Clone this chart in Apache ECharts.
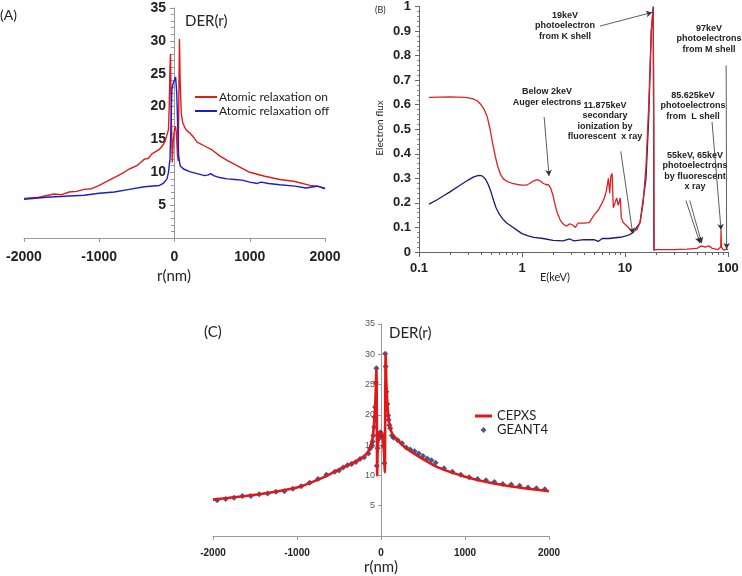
<!DOCTYPE html>
<html><head><meta charset="utf-8">
<script src="https://cdn.jsdelivr.net/npm/echarts@6/dist/echarts.min.js"></script>
<style>html,body{margin:0;padding:0;background:#fff}#c{width:742px;height:576px}</style>
</head><body><div id="c"></div>
<script>
// ---------- Panel A: DER(r) with atomic relaxation on/off ----------
const aOn = [[-2000,6.0],[-1800,6.2],[-1600,6.7],[-1500,6.6],[-1400,7.0],[-1300,7.1],[-1200,7.4],[-1100,7.5],[-1000,8.0],[-900,8.6],[-800,9.2],[-700,9.8],[-600,10.5],[-500,11.0],[-450,11.5],[-400,12.0],[-350,12.1],[-300,12.8],[-200,13.5],[-150,14.2],[-120,14.9],[-80,16.5],[-70,20],[-60,26],[-53,28],[-45,20],[-30,11.5],[-15,15],[0,16.5],[13,17],[25,16],[40,12.5],[50,11.7],[58,22],[66,30.3],[75,24],[90,19],[110,17.5],[150,16.5],[200,16],[250,15.4],[300,14.6],[400,14],[500,13.4],[600,12.5],[700,11.8],[800,11.2],[900,10.6],[1000,10],[1200,9.4],[1400,8.9],[1600,8.6],[1800,8.0],[1900,7.9],[2000,7.6]];
const aOff = [[-2000,5.9],[-1700,6.2],[-1400,6.4],[-1200,6.5],[-1000,6.8],[-800,7.0],[-600,7.4],[-400,7.8],[-200,8.0],[-150,8.3],[-100,9.0],[-80,10],[-60,12],[-45,18],[-35,22.5],[-20,23.5],[0,24],[15,24.5],[30,22],[45,16],[55,12.5],[75,11],[120,10.5],[200,10.1],[300,9.8],[400,9.5],[450,9.6],[480,9.8],[520,9.5],[600,9.2],[700,9.0],[800,8.9],[900,8.8],[1000,8.5],[1100,8.3],[1150,8.5],[1250,8.3],[1400,8.1],[1600,7.9],[1750,7.6],[1850,7.8],[1900,7.9],[2000,7.5]];

// ---------- Panel B: electron flux spectrum ----------
const bRed = [[0.125,0.63],[0.2,0.632],[0.28,0.63],[0.33,0.625],[0.37,0.615],[0.4,0.6],[0.43,0.58],[0.46,0.55],[0.49,0.5],[0.52,0.44],[0.55,0.39],[0.58,0.35],[0.62,0.315],[0.66,0.298],[0.72,0.287],[0.8,0.28],[0.9,0.275],[1.0,0.272],[1.1,0.272],[1.2,0.28],[1.3,0.29],[1.4,0.295],[1.5,0.29],[1.6,0.28],[1.7,0.275],[1.8,0.274],[1.9,0.26],[2.0,0.23],[2.1,0.19],[2.2,0.16],[2.35,0.13],[2.5,0.115],[2.7,0.105],[2.9,0.115],[3.1,0.11],[3.3,0.1],[3.5,0.118],[4.0,0.118],[4.5,0.12],[5.0,0.15],[5.5,0.17],[6.0,0.2],[6.3,0.22],[6.6,0.25],[6.9,0.3],[7.1,0.24],[7.3,0.31],[7.5,0.32],[7.7,0.18],[8.0,0.2],[8.3,0.22],[8.6,0.19],[9.0,0.22],[9.2,0.14],[9.6,0.12],[10.2,0.11],[10.8,0.1],[11.5,0.085],[12,0.08],[13,0.09],[14,0.12],[15,0.2],[16,0.35],[17,0.6],[18,0.9],[18.8,0.99],[19,0.5],[19.1,0.01],[20,0.01],[30,0.01],[40,0.012],[50,0.015],[55,0.025],[60,0.02],[65,0.025],[70,0.015],[80,0.01],[85,0.02],[85.625,0.09],[86.5,0.02],[90,0.008],[97,0.012],[100,0.01]];
const bBlue = [[0.125,0.195],[0.15,0.213],[0.175,0.23],[0.2,0.245],[0.25,0.272],[0.3,0.293],[0.34,0.306],[0.38,0.312],[0.41,0.31],[0.44,0.298],[0.47,0.275],[0.5,0.245],[0.53,0.21],[0.56,0.18],[0.6,0.155],[0.65,0.135],[0.7,0.12],[0.8,0.103],[0.9,0.088],[1.0,0.075],[1.15,0.066],[1.3,0.06],[1.6,0.055],[2.0,0.047],[2.5,0.045],[2.9,0.053],[3.2,0.045],[3.5,0.047],[4.0,0.05],[5.0,0.05],[5.5,0.043],[6.0,0.055],[7.0,0.055],[8.0,0.058],[9.0,0.06],[10,0.065],[11,0.07],[12,0.08],[14,0.12],[16,0.3],[17,0.55],[18,0.9],[18.8,1.0],[19,0.5],[19.1,0.005]];
// annotation arrows: [fromE, fromFlux, toE, toFlux]
const bArrows = [[5.7,0.92,18.3,0.976],[1.64,0.55,1.83,0.31],[9.1,0.41,11.875,0.075],[39,0.21,53.5,0.036],[42.5,0.21,55.5,0.036],[70,0.53,85.625,0.09],[96,0.76,97,0.012]];

// ---------- Panel C: CEPXS vs GEANT4 ----------
const cCepxs = [[-2000,6.0],[-1500,6.8],[-1000,8.0],[-700,9.6],[-500,11],[-300,12.3],[-200,13.2],[-150,14],[-120,15],[-100,16.2],[-80,19],[-65,23],[-55,27.5],[-50,20],[-45,10],[-40,14],[-20,17],[0,17.2],[20,16.5],[35,14],[45,10.5],[50,20],[55,30],[65,25],[80,21],[100,18.5],[130,17],[200,15.8],[300,14.5],[500,12.7],[700,11.2],[1000,9.8],[1300,8.8],[1600,8.1],[2000,7.4]];
const cGeant = [[-1950,5.9],[-1850,6.1],[-1750,6.3],[-1650,6.6],[-1550,6.6],[-1450,6.9],[-1350,7.0],[-1250,7.3],[-1150,7.4],[-1050,7.8],[-950,8.2],[-850,8.8],[-750,9.4],[-650,10.1],[-550,10.6],[-500,10.8],[-450,11.3],[-400,11.7],[-350,11.9],[-300,12.2],[-250,12.7],[-200,13.0],[-150,13.6],[-130,14.4],[-110,15.0],[-100,15.6],[-90,16.6],[-80,18.0],[-75,19.6],[-70,21.3],[-60,25.3],[-55,27.7],[-50,11.6],[-40,14.5],[-30,16.0],[-20,16.9],[-10,17.1],[0,17.0],[10,16.6],[20,16.3],[30,14.8],[40,12.0],[50,30.1],[55,28],[65,23.8],[75,21.8],[85,19.9],[90,19.2],[100,18.3],[110,17.8],[130,16.6],[150,16.2],[200,15.8],[250,15.3],[300,14.6],[350,14.3],[400,14.0],[450,13.6],[500,13.2],[550,12.8],[600,12.5],[650,12.1],[750,11.2],[850,10.6],[950,10.1],[1050,9.7],[1150,9.4],[1250,9.2],[1350,8.9],[1450,8.6],[1550,8.5],[1650,8.3],[1750,8.0],[1850,7.9],[1950,7.7]];

const AR = 'Liberation Sans, Arial, sans-serif';
const CAL = 'Lato, Noto Sans, sans-serif';
const axisGray = '#999';
const DIAMOND = 'path://M5,0 L10,5 L5,10 L0,5 Z';
const LINE_A = 'path://M0,0 L22,0 L22,2 L0,2 Z';
const LINE_C = 'path://M0,0 L17,0 L17,3 L0,3 Z';

const chart = echarts.init(document.getElementById('c'), null, {renderer:'canvas'});
const hideZero = v => v === 0 ? '' : String(v);
const plain = v => String(v);

chart.setOption({
  animation:false,
  backgroundColor:'#fff',
  grid:[
    {left:24, top:8, width:301, height:230},
    {left:419, top:4, width:309, height:248},
    {left:213, top:324, width:336, height:212}
  ],
  xAxis:[
    {gridIndex:0, type:'value', min:-2000, max:2000, interval:1000,
     axisLine:{onZero:false, lineStyle:{color:axisGray}}, axisTick:{show:true, length:4, lineStyle:{color:axisGray}},
     splitLine:{show:false},
     axisLabel:{color:'#222', fontFamily:AR, fontWeight:'bold', fontSize:14, margin:12, formatter:plain}},
    {gridIndex:1, type:'log', logBase:10, min:0.1, max:100,
     axisLine:{onZero:false, lineStyle:{color:'#666'}}, axisTick:{show:true, length:5, lineStyle:{color:'#666'}},
     minorTick:{show:true, splitNumber:9, length:3, lineStyle:{color:'#666'}},
     splitLine:{show:false},
     axisLabel:{color:'#222', fontFamily:AR, fontWeight:'bold', fontSize:13, margin:10}},
    {gridIndex:2, type:'value', min:-2000, max:2000, interval:1000,
     axisLine:{onZero:false, lineStyle:{color:axisGray}}, axisTick:{show:true, length:4, lineStyle:{color:axisGray}},
     splitLine:{show:false},
     axisLabel:{color:'#222', fontFamily:AR, fontWeight:'bold', fontSize:10, margin:12, formatter:plain}}
  ],
  yAxis:[
    {gridIndex:0, type:'value', min:0, max:35, interval:5, offset:-150,
     axisLine:{show:true, onZero:false, lineStyle:{color:axisGray}},
     axisTick:{show:true, length:4, lineStyle:{color:axisGray}},
     minorTick:{show:true, splitNumber:5, length:3, lineStyle:{color:axisGray}},
     splitLine:{show:false},
     axisLabel:{color:'#222', fontFamily:AR, fontWeight:'bold', fontSize:14, margin:8, formatter:hideZero}},
    {gridIndex:1, type:'value', min:0, max:1, interval:0.1,
     axisLine:{show:true, onZero:false, lineStyle:{color:'#666'}},
     axisTick:{show:true, length:4, lineStyle:{color:'#666'}},
     minorTick:{show:true, splitNumber:5, length:2, lineStyle:{color:'#888'}},
     splitLine:{show:false},
     axisLabel:{color:'#222', fontFamily:AR, fontWeight:'bold', fontSize:13, margin:8}},
    {gridIndex:2, type:'value', min:0, max:35, interval:5, offset:-168,
     axisLine:{show:true, onZero:false, lineStyle:{color:axisGray}},
     axisTick:{show:true, length:3, lineStyle:{color:axisGray}},
     splitLine:{show:false},
     axisLabel:{color:'#555', fontFamily:AR, fontSize:9, margin:6, formatter:hideZero}}
  ],
  legend:[
    {data:[{name:'Atomic relaxation on', icon:LINE_A},{name:'Atomic relaxation off', icon:LINE_A}],
     orient:'vertical', left:195, top:90, padding:0,
     itemWidth:22, itemHeight:8, itemGap:0, symbolKeepAspect:true,
     textStyle:{fontFamily:CAL, fontSize:12, color:'#222', padding:[0,0,0,-3], lineHeight:14}},
    {data:[{name:'CEPXS', icon:LINE_C}, {name:'GEANT4', icon:DIAMOND}], orient:'vertical', left:475, top:409, padding:0,
     itemWidth:17, itemHeight:6, itemGap:0, symbolKeepAspect:true,
     textStyle:{fontFamily:CAL, fontSize:13, color:'#222', lineHeight:14}}
  ],
  series:[
    {name:'Atomic relaxation on', type:'line', xAxisIndex:0, yAxisIndex:0, data:aOn, symbol:'none',
     color:'#dd1c1c', lineStyle:{width:1.4}},
    {name:'Atomic relaxation off', type:'line', xAxisIndex:0, yAxisIndex:0, data:aOff, symbol:'none',
     color:'#1c1ccc', lineStyle:{width:1.4}},
    {name:'B off', type:'line', xAxisIndex:1, yAxisIndex:1, data:bBlue, symbol:'none',
     color:'#1a1a7a', lineStyle:{width:1.3}},
    {name:'B on', type:'line', xAxisIndex:1, yAxisIndex:1, data:bRed, symbol:'none',
     color:'#e02020', lineStyle:{width:1.3},
     markLine:{silent:true, symbol:['none','arrow'], symbolSize:[5,6], animation:false,
       label:{show:false}, lineStyle:{color:'#333', width:0.8, type:'solid'},
       data: bArrows.map(a => [{coord:[a[0],a[1]]},{coord:[a[2],a[3]]}])}},
    {name:'CEPXS', type:'line', xAxisIndex:2, yAxisIndex:2, data:cCepxs, symbol:'none', smooth:0.25,
     color:'#e01818', lineStyle:{width:2.6}},
    {name:'GEANT4', type:'scatter', xAxisIndex:2, yAxisIndex:2, data:cGeant, symbol:'diamond', symbolSize:6,
     color:'#1a2f66'}
  ],
  graphic:[
    {type:'text', left:0, top:8, style:{text:'(A)', font:'14px '+CAL, fill:'#222'}},
    {type:'text', left:185, top:14, style:{text:'DER(r)', font:'15px '+CAL, fill:'#222'}},
    {type:'text', x:174, y:276, style:{text:'r(nm)', font:'15px '+CAL, fill:'#222', align:'center', verticalAlign:'middle'}},
    {type:'text', left:375, top:6, style:{text:'(B)', font:'9px '+CAL, fill:'#222'}},
    {type:'text', x:380, y:128, rotation:Math.PI/2, style:{text:'Electron flux', font:'10px '+CAL, fill:'#222', align:'center', verticalAlign:'middle'}},
    {type:'text', x:555, y:277, style:{text:'E(keV)', font:'11px '+CAL, fill:'#222', align:'center', verticalAlign:'middle'}},
    {type:'text', x:565, y:10, style:{text:'19keV\nphotoelectron\nfrom K shell', font:'bold 9px '+AR, lineHeight:10.5, fill:'#222', align:'center'}},
    {type:'text', x:709, y:23, style:{text:'97keV\nphotoelectrons\nfrom M shell', font:'bold 9px '+AR, lineHeight:10.5, fill:'#222', align:'center'}},
    {type:'text', x:693, y:90, style:{text:'85.625keV\nphotoelectrons\nfrom  L shell', font:'bold 9px '+AR, lineHeight:10.5, fill:'#222', align:'center'}},
    {type:'text', x:695, y:150, style:{text:'55keV, 65keV\nphotoelectrons\nby fluorescent\nx ray', font:'bold 9px '+AR, lineHeight:10.5, fill:'#222', align:'center'}},
    {type:'text', x:605, y:100, style:{text:'11.875keV\nsecondary\nionization by\nfluorescent  x ray', font:'bold 9px '+AR, lineHeight:10.5, fill:'#222', align:'center'}},
    {type:'text', x:547, y:86, style:{text:'Below 2keV\nAuger electrons', font:'bold 9px '+AR, lineHeight:11, fill:'#222', align:'center'}},
    {type:'text', left:204, top:325, style:{text:'(C)', font:'15px '+CAL, fill:'#222'}},
    {type:'text', left:389, top:326, style:{text:'DER(r)', font:'15px '+CAL, fill:'#222'}},
    {type:'text', x:381, y:567, style:{text:'r(nm)', font:'15px '+CAL, fill:'#222', align:'center', verticalAlign:'middle'}}
  ]
});
</script></body></html>
